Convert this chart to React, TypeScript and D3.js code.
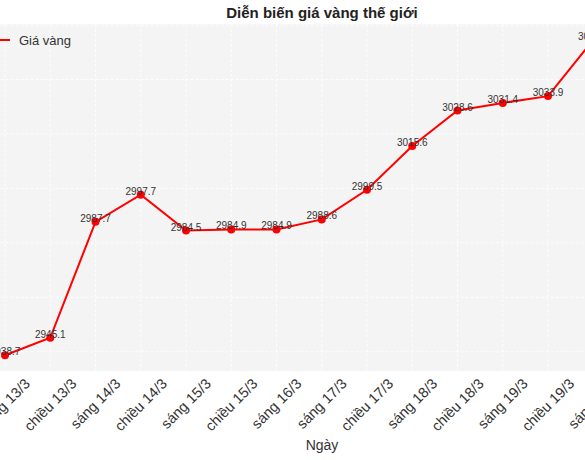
import React, { useEffect, useRef } from "react";
import * as d3 from "d3";

// data
const sessions = [
  "sáng 13/3",
  "chiều 13/3",
  "sáng 14/3",
  "chiều 14/3",
  "sáng 15/3",
  "chiều 15/3",
  "sáng 16/3",
  "sáng 17/3",
  "chiều 17/3",
  "sáng 18/3",
  "chiều 18/3",
  "sáng 19/3",
  "chiều 19/3",
  "sáng 20/3",
];
const prices = [
  2938.7, 2945.1, 2987.7, 2997.7, 2984.5, 2984.9, 2984.9, 2988.6, 2999.5,
  3015.6, 3028.6, 3031.4, 3033.9, 3054.6,
];
const yTicks = [2940, 2960, 2980, 3000, 3020, 3040, 3060];

const title = "Diễn biến giá vàng thế giới";
const seriesName = "Giá vàng";
const xTitle = "Ngày";

const W = 585;
const H = 460;

const App: React.FC = () => {
  const svgRef = useRef<SVGSVGElement | null>(null);

  useEffect(() => {
    document.body.style.margin = "0";
    const svg = d3.select(svgRef.current);
    svg.selectAll("*").remove();

    const font = "'Liberation Sans', Arial, sans-serif";
    const top = 24;
    const bottom = 371;
    const step = 45.25;

    const x = d3
      .scalePoint<string>()
      .domain(sessions)
      .range([5, 5 + step * (sessions.length - 1)]);

    // matplotlib-like 5% margins
    const [mn, mx] = d3.extent(prices) as [number, number];
    const pad = (mx - mn) * 0.05;
    const y = d3.scaleLinear().domain([mn - pad, mx + pad]).range([bottom, top]);

    const left = (x(sessions[0]) as number) - step * 0.65;
    const right = (x(sessions[sessions.length - 1]) as number) + step * 0.65;

    svg.append("rect").attr("width", W).attr("height", H).attr("fill", "#fff");

    svg
      .append("rect")
      .attr("x", left)
      .attr("y", top)
      .attr("width", right - left)
      .attr("height", bottom - top)
      .attr("fill", "#f4f4f4");

    const grid = svg.append("g").attr("stroke", "#ffffff").attr("stroke-width", 0.8).attr("stroke-dasharray", "3,2");
    grid
      .selectAll("line.v")
      .data(sessions)
      .enter()
      .append("line")
      .attr("x1", (d) => x(d) as number)
      .attr("x2", (d) => x(d) as number)
      .attr("y1", top)
      .attr("y2", bottom);
    grid
      .selectAll("line.h")
      .data(yTicks.filter((t) => y(t) >= top && y(t) <= bottom))
      .enter()
      .append("line")
      .attr("x1", left)
      .attr("x2", right)
      .attr("y1", (d) => y(d))
      .attr("y2", (d) => y(d));

    const line = d3
      .line<number>()
      .x((_, i) => x(sessions[i]) as number)
      .y((d) => y(d));

    svg
      .append("path")
      .datum(prices)
      .attr("d", line)
      .attr("fill", "none")
      .attr("stroke", "#ff0000")
      .attr("stroke-width", 2);

    svg
      .selectAll("circle")
      .data(prices)
      .enter()
      .append("circle")
      .attr("cx", (_, i) => x(sessions[i]) as number)
      .attr("cy", (d) => y(d))
      .attr("r", 4)
      .attr("fill", "#ff0000");

    svg
      .append("g")
      .selectAll("text")
      .data(prices)
      .enter()
      .append("text")
      .attr("x", (_, i) => x(sessions[i]) as number)
      .attr("y", (d) => y(d) - 3.5)
      .attr("text-anchor", "middle")
      .attr("dominant-baseline", "central")
      .attr("font-family", font)
      .attr("font-size", 10)
      .attr("fill", "#333")
      .text((d) => d.toFixed(1));

    // rotated tick labels, centred under each tick like matplotlib rotation=45
    const fs = 14.5;
    const ticks = svg.append("g");
    sessions.forEach((s) => {
      const t = ticks
        .append("text")
        .attr("text-anchor", "middle")
        .attr("dominant-baseline", "central")
        .attr("font-family", font)
        .attr("font-size", fs)
        .attr("fill", "#333")
        .text(s);
      const w = (t.node() as SVGTextElement).getComputedTextLength();
      const half = ((w + fs * 0.8) * Math.SQRT1_2) / 2;
      t.attr("transform", `translate(${x(s)},${bottom + 6 + half}) rotate(-45)`);
    });

    svg
      .append("text")
      .attr("x", 322)
      .attr("y", 450)
      .attr("text-anchor", "middle")
      .attr("font-family", font)
      .attr("font-size", 14)
      .attr("fill", "#333")
      .text(xTitle);

    svg
      .append("text")
      .attr("x", 322)
      .attr("y", 17.5)
      .attr("text-anchor", "middle")
      .attr("font-family", font)
      .attr("font-size", 15)
      .attr("font-weight", "bold")
      .attr("fill", "#222")
      .text(title);

    // legend
    svg
      .append("line")
      .attr("x1", -10)
      .attr("x2", 10)
      .attr("y1", 40)
      .attr("y2", 40)
      .attr("stroke", "#ff0000")
      .attr("stroke-width", 2);
    svg
      .append("text")
      .attr("x", 19)
      .attr("y", 44.5)
      .attr("font-family", font)
      .attr("font-size", 13)
      .attr("fill", "#333")
      .text(seriesName);
  }, []);

  return (
    <div style={{ position: "absolute", left: 0, top: 0 }}>
      <svg ref={svgRef} width={W} height={H} style={{ display: "block" }}></svg>
    </div>
  );
};

export default App;
